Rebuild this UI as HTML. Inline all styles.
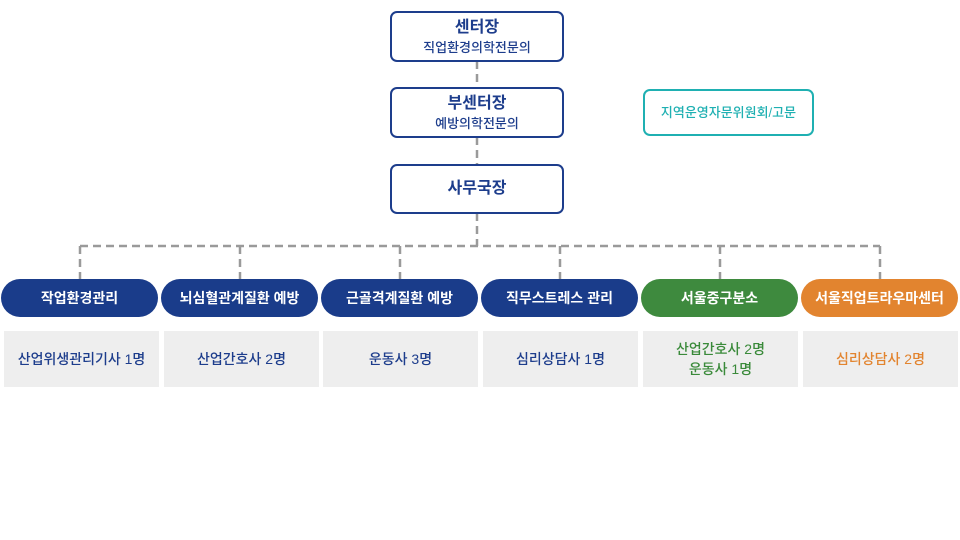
<!DOCTYPE html>
<html><head><meta charset="utf-8"><style>
body{margin:0;width:960px;height:540px;background:#fff;position:relative;font-family:"Liberation Sans","Noto Sans CJK KR",sans-serif;overflow:hidden}
.b{position:absolute;box-sizing:border-box;border:2px solid #1d3d8c;border-radius:7px;background:#fff;color:#1d3d8c;text-align:center;font-weight:bold}
.p{position:absolute;top:279px;height:38px;width:157px;border-radius:19px;color:#fff;font-weight:bold;font-size:14px;line-height:38px;text-align:center}
.g{position:absolute;top:331px;height:56px;width:155px;background:#eeeeee;color:#1d3d8c;font-weight:500;font-size:14px;display:flex;align-items:center;justify-content:center;text-align:center;line-height:20px}
</style></head><body>
<svg width="960" height="540" style="position:absolute;left:0;top:0">
<g stroke="#9a9a9a" stroke-width="2.5" stroke-dasharray="8,5" fill="none">
<line x1="477" y1="61" x2="477" y2="87"/>
<line x1="477" y1="137" x2="477" y2="164"/>
<line x1="477" y1="213" x2="477" y2="246"/>
<line x1="80" y1="246" x2="880" y2="246"/>
<line x1="80" y1="246" x2="80" y2="279"/>
<line x1="240" y1="246" x2="240" y2="279"/>
<line x1="400" y1="246" x2="400" y2="279"/>
<line x1="560" y1="246" x2="560" y2="279"/>
<line x1="720" y1="246" x2="720" y2="279"/>
<line x1="880" y1="246" x2="880" y2="279"/>
</g></svg>
<div class="b" style="left:390px;top:11px;width:174px;height:51px;padding-top:5px"><div style="font-size:16px;line-height:20px">센터장</div><div style="font-size:13px;line-height:19px;font-weight:500">직업환경의학전문의</div></div>
<div class="b" style="left:390px;top:87px;width:174px;height:51px;padding-top:5px"><div style="font-size:16px;line-height:20px">부센터장</div><div style="font-size:13px;line-height:19px;font-weight:500">예방의학전문의</div></div>
<div class="b" style="left:390px;top:164px;width:174px;height:50px;font-size:16px;line-height:46px">사무국장</div>
<div class="b" style="left:643px;top:89px;width:171px;height:47px;border-color:#1fb0b2;color:#1fb0b2;font-size:13px;line-height:43px;font-weight:500">지역운영자문위원회/고문</div>
<div class="p" style="left:1px;background:#1a3c8a">작업환경관리</div>
<div class="p" style="left:161px;background:#1a3c8a">뇌심혈관계질환 예방</div>
<div class="p" style="left:321px;background:#1a3c8a">근골격계질환 예방</div>
<div class="p" style="left:481px;background:#1a3c8a">직무스트레스 관리</div>
<div class="p" style="left:641px;background:#3e8a3e">서울중구분소</div>
<div class="p" style="left:801px;background:#e2842f">서울직업트라우마센터</div>
<div class="g" style="left:4px">산업위생관리기사 1명</div>
<div class="g" style="left:164px">산업간호사 2명</div>
<div class="g" style="left:323px">운동사 3명</div>
<div class="g" style="left:483px">심리상담사 1명</div>
<div class="g" style="left:643px;color:#3a8a3a">산업간호사 2명<br>운동사 1명</div>
<div class="g" style="left:803px;color:#e2842f">심리상담사 2명</div>
</body></html>
